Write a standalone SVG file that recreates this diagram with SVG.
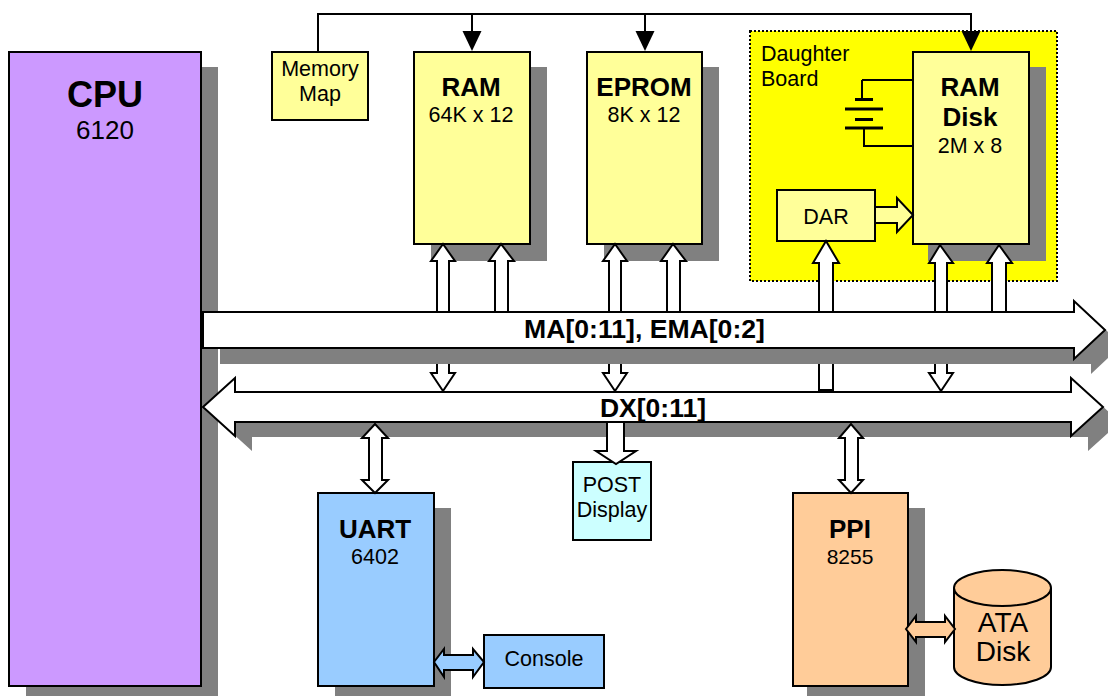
<svg xmlns="http://www.w3.org/2000/svg" width="1108" height="696" viewBox="0 0 1108 696">
<style>
text{font-family:"Liberation Sans",Arial,sans-serif;fill:#000;text-anchor:middle}
.b{font-weight:bold;font-size:26px}
.r{font-size:21.500px}
.box{stroke:#000;stroke-width:2}
.sh{fill:#808080;stroke:none}
.ar{fill:#fff;stroke:#000;stroke-width:2;stroke-linejoin:miter}
.y{fill:#ffff99}
.bl{fill:#99ccff}
.or{fill:#ffcc99}
.ln{fill:none;stroke:#000;stroke-width:2}
.bat{fill:none;stroke:#000;stroke-width:3}
</style>
<g id="daughter-board">
<rect x="750" y="31" width="307" height="250" fill="#ffff00" stroke="#000" stroke-width="2" stroke-dasharray="2 2"/>
<text class="r" x="761" y="61" style="text-anchor:start">Daughter</text>
<text class="r" x="761" y="86" style="text-anchor:start">Board</text>
</g>
<g id="cpu">
<rect class="sh" x="26" y="67" width="192" height="629"/>
<rect class="box" x="9" y="52" width="192" height="634" fill="#cc99ff"/>
<text class="b" x="105" y="107" style="font-size:36px">CPU</text>
<text x="105" y="139" font-size="26">6120</text>
</g>
<g id="memory-map">
<rect class="box y" x="272" y="52" width="96" height="68"/>
<text class="r" x="320" y="76">Memory</text>
<text class="r" x="320" y="101">Map</text>
</g>
<g id="ram">
<rect class="sh" x="431" y="67" width="116" height="194"/>
<rect class="box y" x="414" y="52" width="116" height="192"/>
<text class="b" x="471" y="96">RAM</text>
<text class="r" x="471" y="122">64K x 12</text>
</g>
<g id="eprom">
<rect class="sh" x="604" y="67" width="115" height="194"/>
<rect class="box y" x="587" y="52" width="115" height="192"/>
<text class="b" x="644" y="96">EPROM</text>
<text class="r" x="644" y="122">8K x 12</text>
</g>
<g id="ram-disk">
<rect class="sh" x="928" y="67" width="118" height="194"/>
<rect class="box y" x="913" y="52" width="116" height="192"/>
<text class="b" x="970" y="96">RAM</text>
<text class="b" x="970" y="126">Disk</text>
<text class="r" x="970" y="153">2M x 8</text>
</g>
<g id="dar">
<rect class="box y" x="777" y="190" width="98" height="51"/>
<text class="r" x="826" y="224">DAR</text>
</g>
<g id="battery">
<path class="ln" d="M862 80H913M862 80V99M864 128V146H913"/>
<path class="bat" d="M855 99.500H873M845 109H883M855 119.500H873M845 128H883"/>
</g>
<g id="uart">
<rect class="sh" x="335" y="508" width="116" height="188"/>
<rect class="box bl" x="318" y="493" width="116" height="193"/>
<text class="b" x="375" y="538">UART</text>
<text class="r" x="375" y="564">6402</text>
</g>
<g id="console">
<rect class="box bl" x="484" y="635" width="120" height="53"/>
<text class="r" x="544" y="666">Console</text>
</g>
<g id="post-display">
<rect class="box" x="573" y="462" width="78" height="78" fill="#ccffff"/>
<text class="r" x="612" y="492">POST</text>
<text class="r" x="612" y="517">Display</text>
</g>
<g id="ppi">
<rect class="sh" x="807" y="508" width="118" height="188"/>
<rect class="box or" x="793" y="493" width="115" height="193"/>
<text class="b" x="850" y="538">PPI</text>
<text x="850" y="564" font-size="21">8255</text>
</g>
<g id="ata-disk">
<path class="box or" d="M954 588A48.500 18 0 0 1 1051 588V667A48.500 18 0 0 1 954 667Z"/>
<path class="ln" d="M954 588A48.500 18 0 0 0 1051 588"/>
<text x="1003" y="632" font-size="28">ATA</text>
<text x="1003" y="661" font-size="28">Disk</text>
</g>
<g id="connectors">
<path class="ln" d="M318 52V14H972M472 14V35M645 14V35M971 14V35"/>
<polygon points="462.500,31 481.500,31 472,51"/>
<polygon points="635.500,31 654.500,31 645,51"/>
<polygon points="961.500,31 980.500,31 971,51"/>
<path class="ar y" d="M875 207H897V198L913 215L897 232V223H875Z"/>
<path class="ar" d="M437 312V261H431L443 244L455 261H449V312Z"/>
<path class="ar" d="M495 312V261H489L501 244L514 261H508V312Z"/>
<path class="ar" d="M609 312V261H603L615 244L627 261H621V312Z"/>
<path class="ar" d="M667 312V261H661L673 244L686 261H680V312Z"/>
<path class="ar" d="M819 312V263H813L826 241L839 263H833V312Z"/>
<path class="ar" d="M935 312V263H929L940 245L953 263H947V312Z"/>
<path class="ar" d="M992 312V263H987L999 245L1012 263H1006V312Z"/>
<path class="ar" d="M437 350V373H431L443 391L455 373H449V350Z"/>
<path class="ar" d="M609 350V373H603L615 391L627 373H621V350Z"/>
<path class="ar" d="M935 350V373H929L941 391L953 373H947V350Z"/>
<path class="ar" d="M819 350V390H833V350Z"/>
<polygon class="sh" points="220,327 1091,327 1091,316 1122,345 1091,374 1091,364 220,364"/>
<polygon class="sh" points="252,407 1088,407 1088,393 1120,422 1088,451 1088,437 252,437 252,451 220,422"/>
<path class="ar" d="M203 312H1074V301L1105 330L1074 359V348H203Z"/>
<path class="ar" d="M203 407L235 378V392H1071V378L1103 407L1071 436V422H235V436Z"/>
<path class="ar" d="M369 438H362L375 424L388 438H382V480H388L375 493L362 480H369Z"/>
<path class="ar" d="M845 438H839L851 424L863 438H858V480H863L851 493L839 480H845Z"/>
<path class="ar" d="M607 422H624V451H636L616 464L596 451H607Z"/>
<path class="ar bl" d="M434 662L444 649V655H473V649L484 662L473 677V670H444V677Z"/>
<path class="ar or" d="M906 629L916 616V622H945V616L955 629L945 642V637H916V642Z"/>
</g>
<g id="bus-labels">
<text class="b" x="644.500" y="338" style="font-size:26.600px">MA[0:11], EMA[0:2]</text>
<text class="b" x="653" y="417" style="font-size:26.500px">DX[0:11]</text>
</g>
</svg>
